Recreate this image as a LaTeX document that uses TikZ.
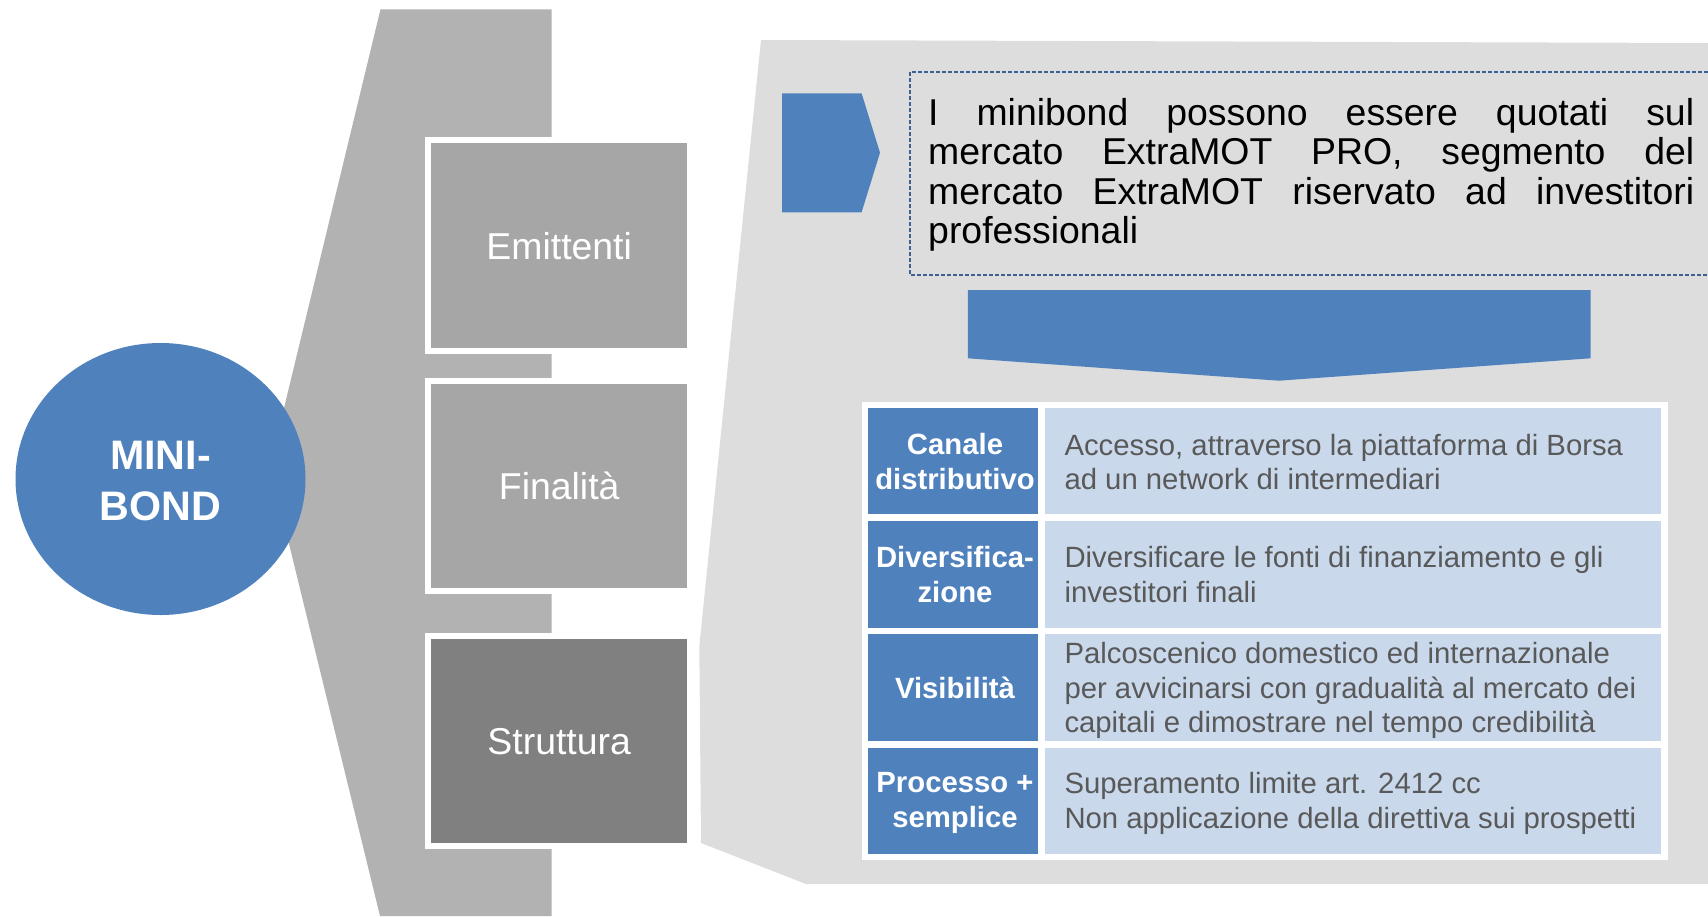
\documentclass[tikz,border=0pt]{standalone}
\usepackage{fontspec}
\setmainfont{Liberation Sans}
\usetikzlibrary{shapes.geometric}
\definecolor{mbblue}{HTML}{4F81BD}
\definecolor{mbband}{HTML}{B2B2B2}
\definecolor{mbbox}{HTML}{A6A6A6}
\definecolor{mbdark}{HTML}{808080}
\definecolor{mbpanel}{HTML}{DDDDDD}
\definecolor{mblight}{RGB}{201,216,235}
\definecolor{mbtext}{HTML}{595959}
\definecolor{mbdash}{RGB}{60,96,145}
\newcommand{\mylines}[2]{\parbox[t]{#1}{#2}}
\begin{document}
\begin{tikzpicture}[x=1pt,y=-1pt,
  gbox/.style={rectangle, draw=white, line width=6pt, minimum width=262pt, minimum height=210.5pt,
    inner sep=0pt, text=white, font=\fontsize{37.4}{40}\selectfont, text height=27.6pt, text depth=0pt},
  hcell/.style={rectangle, fill=mbblue, inner sep=0pt, minimum width=170pt, minimum height=106.8pt},
  dcell/.style={rectangle, fill=mblight, inner sep=0pt, minimum width=616.3pt, minimum height=106.8pt},
  htext/.style={anchor=base, inner sep=0pt, text=white, font=\fontsize{29.3}{34.5}\selectfont\bfseries},
  dtext/.style={anchor=base west, inner sep=0pt, text=mbtext, font=\fontsize{29.3}{34.5}\selectfont}
]
\useasboundingbox (0,0) rectangle (1708,916);
\clip (0,0) rectangle (1708,916);

% left band
\fill[mbband] (380.5,9.3) -- (551.6,9.3) -- (551.6,916) -- (380,916) -- (270,466) -- cycle;

% circle
\node[ellipse, fill=mbblue, minimum width=290pt, minimum height=272pt, inner sep=0pt] (mb) at (160.5,479) {};
\node[anchor=base, inner sep=0pt, text=white, font=\fontsize{41.2}{50.5}\selectfont\bfseries] (mbt) at (160.5,469.5)
  {\mylines{200pt}{\centering MINI-\\BOND}};

% three boxes
\node[gbox, fill=mbbox] (emi) at (559.2,245.5) {Emittenti};
\node[gbox, fill=mbbox] (fin) at (559.2,486) {Finalità};
\node[gbox, fill=mbdark] (str) at (559.2,741) {Struttura};

% right panel
\fill[mbpanel] (761,40) -- (1708,43) -- (1708,884) -- (806,884) -- (701,843) -- (699.3,646) -- cycle;

% pentagon arrow
\fill[mbblue] (782,93.3) -- (861.6,93.3) -- (880,152.7) -- (861.6,212.3) -- (782,212.3) -- cycle;

% dashed box with text
\draw[mbdash, line width=1.9pt, dash pattern=on 4pt off 2pt] (909.8,72.3) rectangle (1730,275);
\node[anchor=base west, inner sep=0pt, text=black, font=\fontsize{37.4}{39.5}\selectfont] (topt) at (928,125)
  {\mylines{766pt}{\makebox[766pt][s]{I minibond possono essere quotati sul}\\
   \makebox[766pt][s]{mercato ExtraMOT PRO, segmento del}\\
   \makebox[766pt][s]{mercato ExtraMOT riservato ad investitori}\\
   professionali}};

% down arrow
\fill[mbblue] (967.8,290) -- (1590.6,290) -- (1590.6,358.3) -- (1279,380.7) -- (967.8,358.3) -- cycle;

% table
\fill[white] (862.1,401.7) rectangle (1667.5,860.3);
\node[hcell] (h1) at (953.2,461) {};
\node[hcell] (h2) at (953.2,574.5) {};
\node[hcell] (h3) at (953.2,687.7) {};
\node[hcell] (h4) at (953.2,800.9) {};
\node[dcell] (d1) at (1353.05,461) {};
\node[dcell] (d2) at (1353.05,574.5) {};
\node[dcell] (d3) at (1353.05,687.7) {};
\node[dcell] (d4) at (1353.05,800.9) {};

\node[htext] (ht1) at (955,454.7) {\mylines{180pt}{\centering Canale\\distributivo}};
\node[htext] (ht2) at (955,567.5) {\mylines{180pt}{\centering Diversifica-\\zione}};
\node[htext] (ht3) at (955,698) {\mylines{180pt}{\centering Visibilità}};
\node[htext] (ht4) at (955,792.8) {\mylines{180pt}{\centering Processo +\\semplice}};

\node[dtext] (dt1) at (1064.3,455.2) {\mylines{600pt}{Accesso, attraverso la piattaforma di Borsa\\ad un network di intermediari}};
\node[dtext] (dt2) at (1064.3,567.8) {\mylines{600pt}{Diversificare le fonti di finanziamento e gli\\investitori finali}};
\node[dtext] (dt3) at (1064.3,663.6) {\mylines{600pt}{Palcoscenico domestico ed internazionale\\per avvicinarsi con gradualità al mercato dei\\capitali e dimostrare nel tempo credibilità}};
\node[dtext] (dt4) at (1064.3,793.6) {\mylines{600pt}{Superamento limite art. 2412 cc\\Non applicazione della direttiva sui prospetti}};
\end{tikzpicture}
\end{document}
